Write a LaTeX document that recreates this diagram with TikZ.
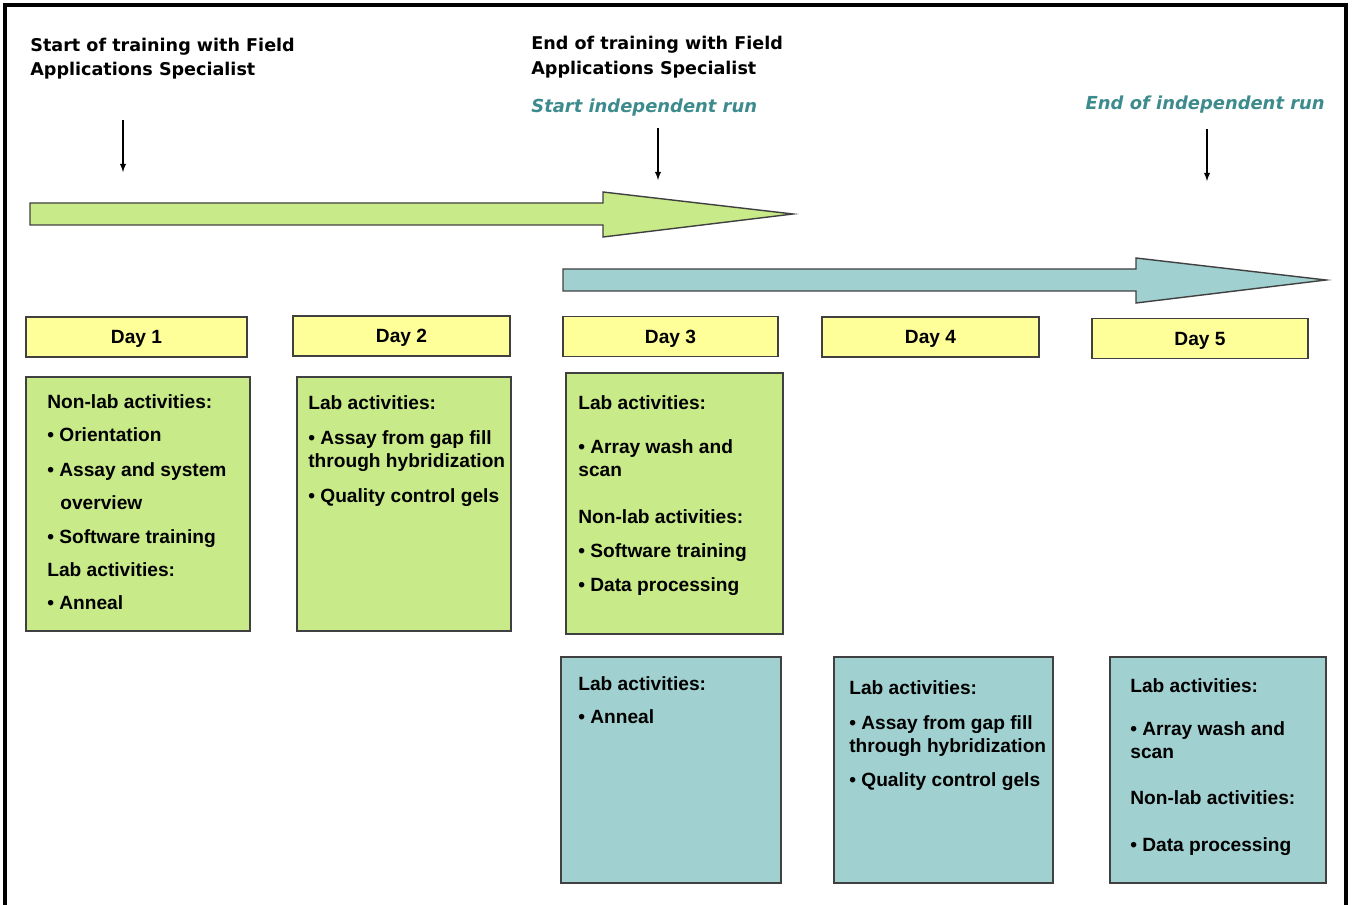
\documentclass[tikz,border=0pt]{standalone}
\usepackage{fontspec}
\setmainfont{Liberation Sans}
\newfontfamily\hdfont{DejaVu Sans}
\usetikzlibrary{arrows,positioning}

\definecolor{boxgreen}{RGB}{200,234,136}
\definecolor{boxteal}{RGB}{160,208,208}
\definecolor{dayyellow}{RGB}{255,255,153}
\definecolor{runteal}{RGB}{62,139,142}
\definecolor{edgegray}{RGB}{64,64,64}

\tikzset{
  txt/.style={right, inner sep=0pt, font=\bfseries\fontsize{10.9}{13}\selectfont, text height=7.8pt, text depth=0pt},
  hd/.style={right, inner sep=0pt, font=\hdfont\bfseries\fontsize{10}{12}\selectfont, text height=7.3pt, text depth=0pt},
  run/.style={hd, text=runteal, font=\hdfont\bfseries\itshape\fontsize{10.2}{12}\selectfont},
  daybox/.style={draw=edgegray, line width=0.9pt, fill=dayyellow, minimum height=0.8cm, inner sep=0pt, text height=7.8pt, text depth=0pt, font=\bfseries\fontsize{10.9}{13}\selectfont},
  actbox/.style={draw=edgegray, line width=0.9pt, inner sep=0pt},
  bigarrow/.style={draw=edgegray, line width=0.8pt, line join=miter},
  pointer/.style={-latex, line width=0.6pt}
}

\begin{document}
\begin{tikzpicture}[x=0.02cm,y=-0.02cm]
    \useasboundingbox (0,0) rectangle (1352,905);
    \draw[line width=1.8pt] (5,905) -- (5,5) -- (1346,5) -- (1346,905);

    % headings
    \node[hd] (ST1) at (30,45) {Start of training with Field};
    \node[hd] (ST2) at (30,69) {Applications Specialist};
    \node[hd] (ET1) at (531,43) {End of training with Field};
    \node[hd] (ET2) at (531,68) {Applications Specialist};
    \node[run] (SR) at (531,106) {Start independent run};
    \node[run, left] (ER) at (1325,103) {End of independent run};

    \coordinate (M1s) at (123,120);
    \coordinate (M1e) at (123,172);
    \coordinate (M2s) at (658,128);
    \coordinate (M2e) at (658,180);
    \coordinate (M3s) at (1207,129);
    \coordinate (M3e) at (1207,181);
    \draw[pointer] (M1s) -- (M1e);
    \draw[pointer] (M2s) -- (M2e);
    \draw[pointer] (M3s) -- (M3e);

    % block arrows
    \draw[bigarrow, fill=boxgreen] (30,203) -- (603,203) -- (603,192) -- (793,214)
        -- (603,237) -- (603,225) -- (30,225) -- cycle;
    \draw[bigarrow, fill=boxteal] (563,269) -- (1136,269) -- (1136,258) -- (1326,280)
        -- (1136,303) -- (1136,291) -- (563,291) -- cycle;

    % days
    \node[daybox, minimum width=4.42cm] (D1) at (136.5,337) {Day 1};
    \node[daybox, minimum width=4.34cm] (D2) at (401.5,336) {Day 2};
    \node[daybox, minimum width=4.30cm] (D3) at (670.5,336.5) {Day 3};
    \node[daybox, minimum width=4.34cm] (D4) at (930.5,337) {Day 4};
    \node[daybox, minimum width=4.32cm] (D5) at (1200,338.5) {Day 5};

    % activity boxes
    \node[actbox, fill=boxgreen, minimum width=4.48cm, minimum height=5.08cm] (G1) at (138,504) {};
    \node[actbox, fill=boxgreen, minimum width=4.28cm, minimum height=5.08cm] (G2) at (404,504) {};
    \node[actbox, fill=boxgreen, minimum width=4.34cm, minimum height=5.22cm] (G3) at (674.5,503.5) {};
    \node[actbox, fill=boxteal, minimum width=4.40cm, minimum height=4.52cm] (T3) at (671,770) {};
    \node[actbox, fill=boxteal, minimum width=4.38cm, minimum height=4.52cm] (T4) at (943.5,770) {};
    \node[actbox, fill=boxteal, minimum width=4.32cm, minimum height=4.52cm] (T5) at (1218,770) {};

    \node[txt] (G1a) at (47,402) {Non-lab activities:};
    \node[txt] (G1b) at (47,435) {• Orientation};
    \node[txt] (G1c) at (47,470) {• Assay and system};
    \node[txt] (G1d) at (60,503) {overview};
    \node[txt] (G1e) at (47,537) {• Software training};
    \node[txt] (G1f) at (47,570) {Lab activities:};
    \node[txt] (G1g) at (47,603) {• Anneal};

    \node[txt] (G2a) at (308,403) {Lab activities:};
    \node[txt] (G2b) at (308,438) {• Assay from gap fill};
    \node[txt] (G2c) at (308,461) {through hybridization};
    \node[txt] (G2d) at (308,496) {• Quality control gels};

    \node[txt] (G3a) at (578,403) {Lab activities:};
    \node[txt] (G3b) at (578,447) {• Array wash and};
    \node[txt] (G3c) at (578,470) {scan};
    \node[txt] (G3d) at (578,517) {Non-lab activities:};
    \node[txt] (G3e) at (578,551) {• Software training};
    \node[txt] (G3f) at (578,585) {• Data processing};

    \node[txt] (T3a) at (578,684) {Lab activities:};
    \node[txt] (T3b) at (578,717) {• Anneal};

    \node[txt] (T4a) at (849,688) {Lab activities:};
    \node[txt] (T4b) at (849,723) {• Assay from gap fill};
    \node[txt] (T4c) at (849,746) {through hybridization};
    \node[txt] (T4d) at (849,780) {• Quality control gels};

    \node[txt] (T5a) at (1130,686) {Lab activities:};
    \node[txt] (T5b) at (1130,729) {• Array wash and};
    \node[txt] (T5c) at (1130,752) {scan};
    \node[txt] (T5d) at (1130,798) {Non-lab activities:};
    \node[txt] (T5e) at (1130,845) {• Data processing};
\end{tikzpicture}
\end{document}
